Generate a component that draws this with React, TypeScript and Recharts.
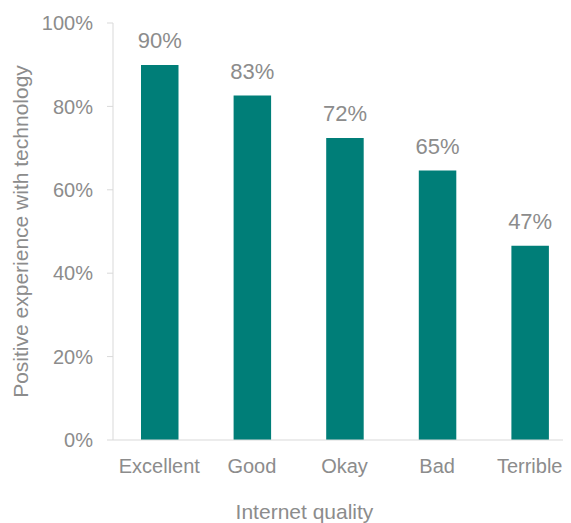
import { Bar, BarChart, LabelList, Label, XAxis, YAxis } from 'recharts';

// Share of respondents with a positive experience, by internet quality.
const qualities = ['Excellent', 'Good', 'Okay', 'Bad', 'Terrible'];
const positive = [89.9, 82.6, 72.4, 64.6, 46.6];
const yTicks = [0, 20, 40, 60, 80, 100];

const TEAL = '#007e78';
const GREY = '#8c8c8c';
const LINE = '#d9d9d9';
const FONT = '"Liberation Sans", Arial, Helvetica, sans-serif';

const rows = qualities.map((q, i) => ({ quality: q, value: positive[i] }));

export default function App() {
  return (
    <div style={{ width: 563, height: 515, overflow: 'hidden', fontFamily: FONT }}>
      <BarChart
        width={576}
        height={515}
        data={rows}
        margin={{ top: 15, right: 8, bottom: 0, left: 0 }}
        barSize={37.5}
      >
        <XAxis
          dataKey="quality"
          stroke={LINE}
          tickLine={false}
          tickSize={0}
          tickMargin={19}
          height={83}
          tick={{ fill: GREY, fontSize: 20, fontFamily: FONT }}
        >
          <Label
            content={({ viewBox }: any) => (
              <text
                x={viewBox.x + viewBox.width / 2 - 40}
                y={511}
                textAnchor="middle"
                fill={GREY}
                fontSize={21}
                fontFamily={FONT}
              >
                Internet quality
              </text>
            )}
          />
        </XAxis>
        <YAxis
          domain={[0, 100]}
          ticks={yTicks}
          width={105}
          stroke={LINE}
          tickSize={6}
          tickMargin={14}
          tickFormatter={(v: number) => `${v}%`}
          tick={{ fill: GREY, fontSize: 20, fontFamily: FONT }}
        >
          <Label
            content={({ viewBox }: any) => {
              const cx = 20;
              const cy = viewBox.y + viewBox.height / 2;
              return (
                <text
                  x={cx}
                  y={cy}
                  transform={`rotate(-90 ${cx} ${cy})`}
                  textAnchor="middle"
                  fill={GREY}
                  fontSize={21}
                  fontFamily={FONT}
                >
                  Positive experience with technology
                </text>
              );
            }}
          />
        </YAxis>
        <Bar dataKey="value" fill={TEAL} isAnimationActive={false}>
          <LabelList
            dataKey="value"
            position="top"
            offset={17}
            formatter={(v: any) => `${Math.round(Number(v))}%`}
            fill={GREY}
            fontSize={22}
            fontFamily={FONT}
          />
        </Bar>
      </BarChart>
    </div>
  );
}
